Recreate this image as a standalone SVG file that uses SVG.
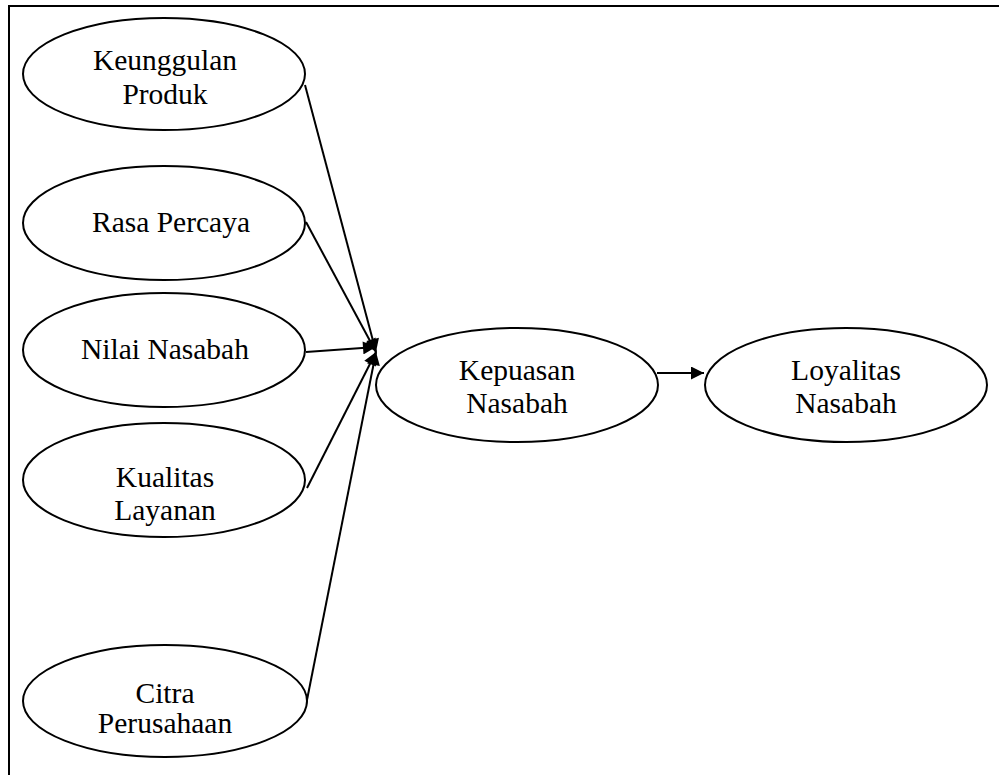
<svg xmlns="http://www.w3.org/2000/svg" width="999" height="775" viewBox="0 0 999 775">
  <style>
    .node ellipse { fill: #ffffff; stroke: #000000; stroke-width: 2; }
    .node text { font-family: "Liberation Serif", "Times New Roman", serif; font-size: 29.5px; fill: #000000; text-anchor: middle; }
    .edges line { stroke: #000000; stroke-width: 2; fill: none; }
  </style>
  <defs>
    <marker id="arrow" viewBox="0 0 10 10" refX="10" refY="5" markerWidth="8" markerHeight="6.5" markerUnits="strokeWidth" orient="auto">
      <path d="M0,0 L10,5 L0,10 Z" fill="#000000"/>
    </marker>
  </defs>
  <rect width="999" height="775" fill="#ffffff"/>
  <!-- outer frame -->
  <rect x="9" y="6" width="1000" height="800" fill="none" stroke="#000000" stroke-width="2"/>

  <g class="edges">
    <line x1="305" y1="85" x2="376" y2="352" marker-end="url(#arrow)"/>
    <line x1="306" y1="222" x2="376" y2="352" marker-end="url(#arrow)"/>
    <line x1="306" y1="352" x2="376" y2="347" marker-end="url(#arrow)"/>
    <line x1="307" y1="488" x2="376" y2="352" marker-end="url(#arrow)"/>
    <line x1="306" y1="705" x2="376" y2="352" marker-end="url(#arrow)"/>
    <line x1="657" y1="373" x2="704" y2="373" marker-end="url(#arrow)"/>
  </g>

  <g id="keunggulan-produk" class="node">
    <ellipse cx="164" cy="74" rx="141" ry="56"/>
    <text x="165" y="70">Keunggulan</text>
    <text x="165" y="104">Produk</text>
  </g>
  <g id="rasa-percaya" class="node">
    <ellipse cx="164" cy="223" rx="141" ry="57"/>
    <text x="171" y="232">Rasa Percaya</text>
  </g>
  <g id="nilai-nasabah" class="node">
    <ellipse cx="164" cy="350" rx="141" ry="57"/>
    <text x="165" y="359">Nilai Nasabah</text>
  </g>
  <g id="kualitas-layanan" class="node">
    <ellipse cx="164" cy="480" rx="141" ry="57"/>
    <text x="165" y="487">Kualitas</text>
    <text x="165" y="520">Layanan</text>
  </g>
  <g id="citra-perusahaan" class="node">
    <ellipse cx="165" cy="701" rx="142" ry="56"/>
    <text x="165" y="703">Citra</text>
    <text x="165" y="733">Perusahaan</text>
  </g>
  <g id="kepuasan-nasabah" class="node">
    <ellipse cx="517" cy="385" rx="141" ry="57"/>
    <text x="517" y="380">Kepuasan</text>
    <text x="517" y="413">Nasabah</text>
  </g>
  <g id="loyalitas-nasabah" class="node">
    <ellipse cx="846" cy="385" rx="141" ry="57"/>
    <text x="846" y="380">Loyalitas</text>
    <text x="846" y="413">Nasabah</text>
  </g>
</svg>
